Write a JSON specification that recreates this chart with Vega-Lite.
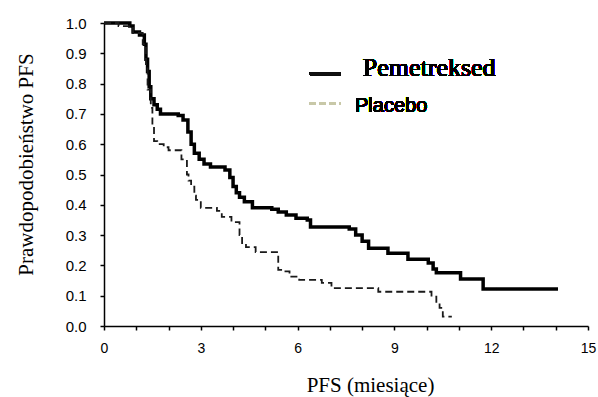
{
  "$schema": "https://vega.github.io/schema/vega-lite/v6.json",
  "width": 484,
  "height": 303,
  "autosize": "none",
  "padding": {"left": 104, "top": 23, "right": 10, "bottom": 71},
  "background": "white",
  "config": {
    "view": {"stroke": null},
    "axisX": {
      "titleFont": "Liberation Serif", "titleFontSize": 21, "titleFontWeight": "normal", "titleColor": "black",
      "titleX": 266, "titleY": 65, "titleAlign": "center", "titleBaseline": "alphabetic",
      "labelExpr": "datum.value % 3 === 0 ? datum.label : ''",
      "labelFont": "Liberation Sans", "labelFontSize": 14, "labelColor": "black", "labelPadding": 11,
      "labelFlush": false, "labelOverlap": false,
      "grid": false, "domainColor": "black", "domainWidth": 1.5, "tickColor": "black", "tickSize": 4, "tickWidth": 1.5
    },
    "axisY": {
      "titleFont": "Liberation Serif", "titleFontSize": 21, "titleFontWeight": "normal", "titleColor": "black",
      "titleX": -72, "titleY": 141, "titleAlign": "center", "titleBaseline": "alphabetic", "titleAngle": -90,
      "labelFont": "Liberation Sans", "labelFontSize": 15, "labelColor": "black", "labelPadding": 14,
      "labelFlush": false, "labelOverlap": false,
      "grid": false, "domainColor": "black", "domainWidth": 1.5, "tickColor": "black", "tickSize": 4, "tickWidth": 1.5
    }
  },
  "data": {"values": [
    {"s": "Pemetreksed", "t": 0, "p": 1.0},
    {"s": "Pemetreksed", "t": 0.8, "p": 0.99},
    {"s": "Pemetreksed", "t": 0.9, "p": 0.97},
    {"s": "Pemetreksed", "t": 1.1, "p": 0.96},
    {"s": "Pemetreksed", "t": 1.25, "p": 0.93},
    {"s": "Pemetreksed", "t": 1.3, "p": 0.88},
    {"s": "Pemetreksed", "t": 1.35, "p": 0.84},
    {"s": "Pemetreksed", "t": 1.4, "p": 0.79},
    {"s": "Pemetreksed", "t": 1.45, "p": 0.75},
    {"s": "Pemetreksed", "t": 1.55, "p": 0.73},
    {"s": "Pemetreksed", "t": 1.65, "p": 0.715},
    {"s": "Pemetreksed", "t": 1.75, "p": 0.70},
    {"s": "Pemetreksed", "t": 2.3, "p": 0.695},
    {"s": "Pemetreksed", "t": 2.45, "p": 0.68},
    {"s": "Pemetreksed", "t": 2.6, "p": 0.64},
    {"s": "Pemetreksed", "t": 2.7, "p": 0.60},
    {"s": "Pemetreksed", "t": 2.8, "p": 0.57},
    {"s": "Pemetreksed", "t": 2.95, "p": 0.55},
    {"s": "Pemetreksed", "t": 3.1, "p": 0.535},
    {"s": "Pemetreksed", "t": 3.3, "p": 0.525},
    {"s": "Pemetreksed", "t": 3.75, "p": 0.515},
    {"s": "Pemetreksed", "t": 3.9, "p": 0.49},
    {"s": "Pemetreksed", "t": 4.0, "p": 0.46},
    {"s": "Pemetreksed", "t": 4.1, "p": 0.44},
    {"s": "Pemetreksed", "t": 4.2, "p": 0.425},
    {"s": "Pemetreksed", "t": 4.35, "p": 0.41},
    {"s": "Pemetreksed", "t": 4.6, "p": 0.39},
    {"s": "Pemetreksed", "t": 5.2, "p": 0.385},
    {"s": "Pemetreksed", "t": 5.4, "p": 0.376},
    {"s": "Pemetreksed", "t": 5.65, "p": 0.366},
    {"s": "Pemetreksed", "t": 5.95, "p": 0.356},
    {"s": "Pemetreksed", "t": 6.3, "p": 0.35},
    {"s": "Pemetreksed", "t": 6.4, "p": 0.327},
    {"s": "Pemetreksed", "t": 7.6, "p": 0.32},
    {"s": "Pemetreksed", "t": 7.8, "p": 0.30},
    {"s": "Pemetreksed", "t": 8.0, "p": 0.28},
    {"s": "Pemetreksed", "t": 8.2, "p": 0.257},
    {"s": "Pemetreksed", "t": 8.8, "p": 0.24},
    {"s": "Pemetreksed", "t": 9.42, "p": 0.22},
    {"s": "Pemetreksed", "t": 10.05, "p": 0.208},
    {"s": "Pemetreksed", "t": 10.2, "p": 0.188},
    {"s": "Pemetreksed", "t": 10.3, "p": 0.176},
    {"s": "Pemetreksed", "t": 11.05, "p": 0.155},
    {"s": "Pemetreksed", "t": 11.75, "p": 0.122},
    {"s": "Pemetreksed", "t": 14.07, "p": 0.122},
    {"s": "Placebo", "t": 0, "p": 1.0},
    {"s": "Placebo", "t": 0.45, "p": 0.99},
    {"s": "Placebo", "t": 0.9, "p": 0.967},
    {"s": "Placebo", "t": 1.2, "p": 0.93},
    {"s": "Placebo", "t": 1.3, "p": 0.85},
    {"s": "Placebo", "t": 1.35, "p": 0.78},
    {"s": "Placebo", "t": 1.45, "p": 0.72},
    {"s": "Placebo", "t": 1.5, "p": 0.66},
    {"s": "Placebo", "t": 1.55, "p": 0.61},
    {"s": "Placebo", "t": 1.65, "p": 0.60},
    {"s": "Placebo", "t": 1.85, "p": 0.59},
    {"s": "Placebo", "t": 2.0, "p": 0.58},
    {"s": "Placebo", "t": 2.4, "p": 0.55},
    {"s": "Placebo", "t": 2.57, "p": 0.50},
    {"s": "Placebo", "t": 2.62, "p": 0.48},
    {"s": "Placebo", "t": 2.7, "p": 0.46},
    {"s": "Placebo", "t": 2.8, "p": 0.43},
    {"s": "Placebo", "t": 2.85, "p": 0.416},
    {"s": "Placebo", "t": 3.0, "p": 0.39},
    {"s": "Placebo", "t": 3.5, "p": 0.38},
    {"s": "Placebo", "t": 3.65, "p": 0.36},
    {"s": "Placebo", "t": 3.95, "p": 0.343},
    {"s": "Placebo", "t": 4.2, "p": 0.30},
    {"s": "Placebo", "t": 4.28, "p": 0.274},
    {"s": "Placebo", "t": 4.4, "p": 0.26},
    {"s": "Placebo", "t": 4.7, "p": 0.244},
    {"s": "Placebo", "t": 5.4, "p": 0.185},
    {"s": "Placebo", "t": 5.55, "p": 0.18},
    {"s": "Placebo", "t": 5.75, "p": 0.163},
    {"s": "Placebo", "t": 6.05, "p": 0.152},
    {"s": "Placebo", "t": 6.75, "p": 0.142},
    {"s": "Placebo", "t": 7.05, "p": 0.125},
    {"s": "Placebo", "t": 8.5, "p": 0.113},
    {"s": "Placebo", "t": 10.15, "p": 0.097},
    {"s": "Placebo", "t": 10.3, "p": 0.075},
    {"s": "Placebo", "t": 10.4, "p": 0.06},
    {"s": "Placebo", "t": 10.5, "p": 0.031},
    {"s": "Placebo", "t": 10.78, "p": 0.031}
  ]},
  "layer": [
    {
      "mark": {"type": "line", "interpolate": "step-after", "clip": false},
      "encoding": {
        "x": {"field": "t", "type": "quantitative",
          "scale": {"domain": [0, 15], "nice": false, "zero": false},
          "axis": {"title": "PFS (miesiące)", "values": [0,1,2,3,4,5,6,7,8,9,10,11,12,13,14,15]}},
        "y": {"field": "p", "type": "quantitative",
          "scale": {"domain": [0, 1], "nice": false},
          "axis": {"title": "Prawdopodobieństwo PFS", "values": [0,0.1,0.2,0.3,0.4,0.5,0.6,0.7,0.8,0.9,1.0], "format": ".1f"}},
        "detail": {"field": "s"},
        "color": {"field": "s", "type": "nominal", "scale": {"domain": ["Pemetreksed", "Placebo"], "range": ["#000000", "#1a1a1a"]}, "legend": null},
        "strokeWidth": {"field": "s", "type": "nominal", "scale": {"domain": ["Pemetreksed", "Placebo"], "range": [3.5, 1.8]}, "legend": null},
        "strokeDash": {"field": "s", "type": "nominal", "scale": {"domain": ["Pemetreksed", "Placebo"], "range": [[1, 0], [7, 4]]}, "legend": null}
      }
    },
    {
      "mark": {"type": "rule", "stroke": "#111111", "strokeWidth": 2.5},
      "encoding": {
        "x": {"datum": 6.38, "axis": {"title": "PFS (miesiące)", "values": [0,1,2,3,4,5,6,7,8,9,10,11,12,13,14,15]}},
        "x2": {"datum": 7.34},
        "y": {"datum": 0.832, "axis": {"title": "Prawdopodobieństwo PFS", "values": [0,0.1,0.2,0.3,0.4,0.5,0.6,0.7,0.8,0.9,1.0], "format": ".1f"}}}
    },
    {
      "mark": {"type": "text", "font": "Liberation Serif", "fontSize": 26, "fontWeight": "normal", "align": "left", "baseline": "alphabetic", "fill": "black"},
      "encoding": {
        "x": {"datum": 8.02, "axis": {"title": "PFS (miesiące)", "values": [0,1,2,3,4,5,6,7,8,9,10,11,12,13,14,15]}},
        "y": {"datum": 0.825, "axis": {"title": "Prawdopodobieństwo PFS", "values": [0,0.1,0.2,0.3,0.4,0.5,0.6,0.7,0.8,0.9,1.0], "format": ".1f"}},
        "text": {"value": "Pemetreksed"}}
    },
    {
      "mark": {"type": "rule", "stroke": "#c8c8a8", "strokeWidth": 2, "strokeDash": [6, 4]},
      "encoding": {
        "x": {"datum": 6.38, "axis": {"title": "PFS (miesiące)", "values": [0,1,2,3,4,5,6,7,8,9,10,11,12,13,14,15]}},
        "x2": {"datum": 7.34},
        "y": {"datum": 0.735, "axis": {"title": "Prawdopodobieństwo PFS", "values": [0,0.1,0.2,0.3,0.4,0.5,0.6,0.7,0.8,0.9,1.0], "format": ".1f"}}}
    },
    {
      "mark": {"type": "text", "font": "Liberation Sans", "fontSize": 20, "fontWeight": "normal", "align": "left", "baseline": "alphabetic", "fill": "black"},
      "encoding": {
        "x": {"datum": 7.78, "axis": {"title": "PFS (miesiące)", "values": [0,1,2,3,4,5,6,7,8,9,10,11,12,13,14,15]}},
        "y": {"datum": 0.707, "axis": {"title": "Prawdopodobieństwo PFS", "values": [0,0.1,0.2,0.3,0.4,0.5,0.6,0.7,0.8,0.9,1.0], "format": ".1f"}},
        "text": {"value": "Placebo"}}
    }
  ]
}
